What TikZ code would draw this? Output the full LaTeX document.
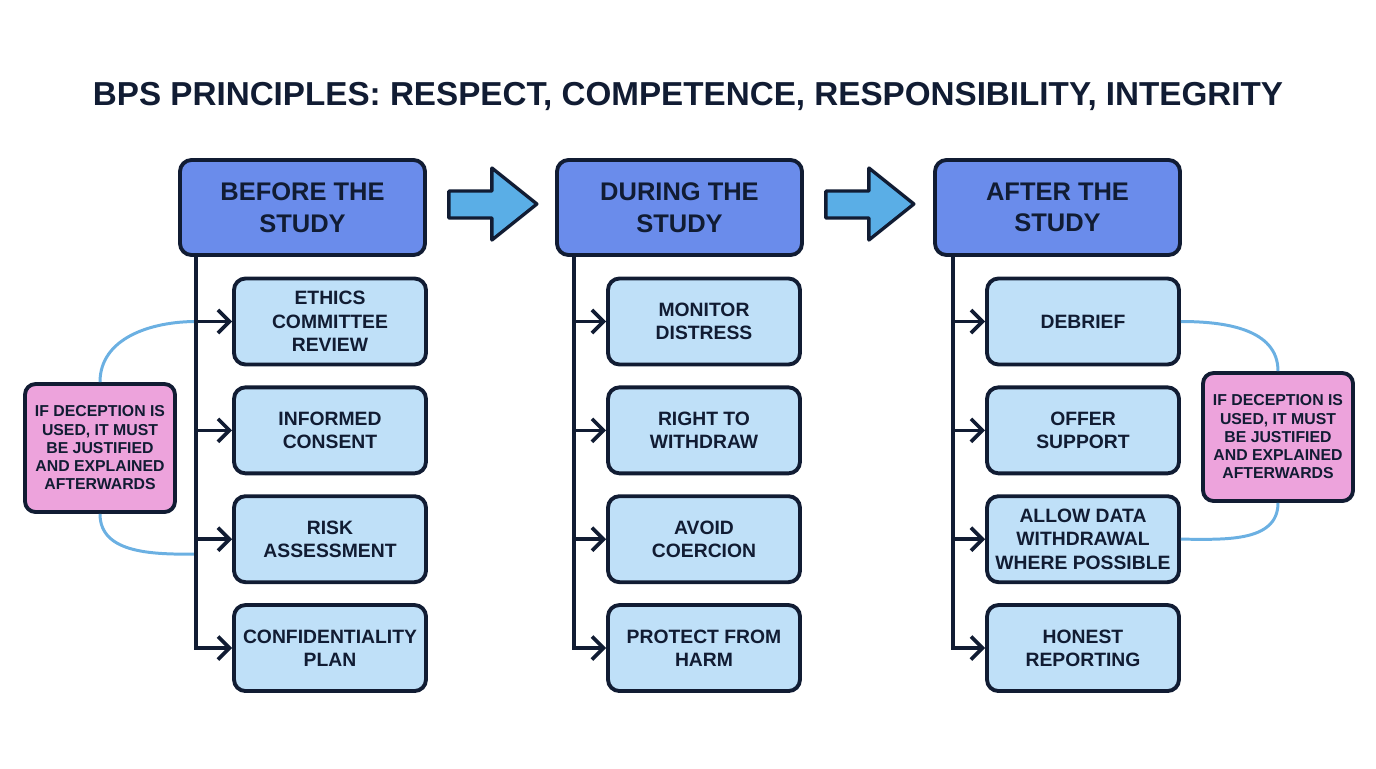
\documentclass[tikz,border=0pt]{standalone}
\usepackage{fontspec}
\setmainfont{Liberation Sans}
\usetikzlibrary{arrows.meta,positioning,calc}
\definecolor{bpsink}{HTML}{111C33}
\definecolor{bpshead}{HTML}{6A8CEB}
\definecolor{bpsstep}{HTML}{BFE0F8}
\definecolor{bpsnote}{HTML}{EDA3DC}
\definecolor{bpsarrow}{HTML}{5AAEE6}
\definecolor{bpslink}{HTML}{6BB0E2}
\tikzset{
  phase/.style={rectangle,rounded corners=6.5pt,draw=bpsink,line width=2.2pt,
                fill=bpshead,minimum width=4.9cm,minimum height=1.9cm,inner sep=2pt,
                align=center,font=\fontsize{14.5}{18}\selectfont\bfseries,text=bpsink},
  task/.style={rectangle,rounded corners=6.5pt,draw=bpsink,line width=2.2pt,
               fill=bpsstep,minimum width=3.84cm,minimum height=1.72cm,inner sep=2pt,
               align=center,font=\fontsize{11}{13.3}\selectfont\bfseries,text=bpsink},
  caveat/.style={rectangle,rounded corners=6pt,draw=bpsink,line width=2.2pt,
                 fill=bpsnote,minimum width=3.0cm,minimum height=2.56cm,inner sep=2pt,
                 align=center,font=\fontsize{9}{10.4}\selectfont\bfseries,text=bpsink},
  trunk/.style={line width=2pt,draw=bpsink},
  branch/.style={-{Straight Barb[length=2.3mm,width=4.6mm]},line width=2.1pt,draw=bpsink},
  link/.style={line width=1.7pt,draw=bpslink},
  bigarrow/.style={fill=bpsarrow,draw=bpsink,line width=1.9pt,line join=round},
}
\begin{document}
\begin{tikzpicture}[x=0.02cm,y=-0.02cm,node distance=0.38cm]
  \useasboundingbox (0,0) rectangle (1376,768);
  \node[anchor=base,font=\fontsize{18.9}{22}\selectfont\bfseries,text=bpsink] (ttl) at (688,105)
    {BPS PRINCIPLES: RESPECT, COMPETENCE, RESPONSIBILITY, INTEGRITY};

  % phases
  \node[phase] (bef) at (302.5,207.5) {BEFORE THE\\STUDY};
  \node[phase] (dur) at (679.5,207.5) {DURING THE\\STUDY};
  \node[phase] (aft) at (1057.5,207.5) {AFTER THE\\STUDY};

  % before
  \node[task] (b1) at (330,321.5) {ETHICS\\COMMITTEE\\REVIEW};
  \node[task,below=of b1] (b2) {INFORMED\\CONSENT};
  \node[task,below=of b2] (b3) {RISK\\ASSESSMENT};
  \node[task,below=of b3] (b4) {CONFIDENTIALITY\\PLAN};

  % during
  \node[task] (d1) at (704,321.5) {MONITOR\\DISTRESS};
  \node[task,below=of d1] (d2) {RIGHT TO\\WITHDRAW};
  \node[task,below=of d2] (d3) {AVOID\\COERCION};
  \node[task,below=of d3] (d4) {PROTECT FROM\\HARM};

  % after
  \node[task] (a1) at (1083,321.5) {DEBRIEF};
  \node[task,below=of a1] (a2) {OFFER\\SUPPORT};
  \node[task,below=of a2] (a3) {ALLOW DATA\\WITHDRAWAL\\WHERE POSSIBLE};
  \node[task,below=of a3] (a4) {HONEST\\REPORTING};

  % deception notes
  \node[caveat] (noteL) at (100,448) {IF DECEPTION IS\\USED, IT MUST\\BE JUSTIFIED\\AND EXPLAINED\\AFTERWARDS};
  \node[caveat] (noteR) at (1278,437) {IF DECEPTION IS\\USED, IT MUST\\BE JUSTIFIED\\AND EXPLAINED\\AFTERWARDS};

  \coordinate (bt) at ($(bef.south west)+(18,0)$);
  \coordinate (dt) at ($(dur.south west)+(19,0)$);
  \coordinate (at) at ($(aft.south west)+(20,0)$);

  \draw[link] (noteL.north) to[out=90,in=180] (bt |- b1.west);
  \draw[link] (noteL.south) to[out=-90,in=180] ($(bt |- b3.west)+(0,15)$);
  \draw[link] (a1.east) to[out=0,in=90] (noteR.north);
  \draw[link] (a3.east) to[out=0,in=-90] (noteR.south);

  \draw[branch] (bt) |- (b4.west);
  \draw[branch] (bt |- b1.west) -- (b1.west);
  \draw[branch] (bt |- b2.west) -- (b2.west);
  \draw[branch] (bt |- b3.west) -- (b3.west);

  \draw[branch] (dt) |- (d4.west);
  \draw[branch] (dt |- d1.west) -- (d1.west);
  \draw[branch] (dt |- d2.west) -- (d2.west);
  \draw[branch] (dt |- d3.west) -- (d3.west);

  \draw[branch] (at) |- (a4.west);
  \draw[branch] (at |- a1.west) -- (a1.west);
  \draw[branch] (at |- a2.west) -- (a2.west);
  \draw[branch] (at |- a3.west) -- (a3.west);

  % phase arrows
  \draw[bigarrow] ($(bef.east)+(22,-16.5)$) -- ++(43,0) -- ++(0,-23) -- ++(45,36)
    -- ++(-45,36) -- ++(0,-22) -- ++(-43,0) -- cycle;
  \draw[bigarrow] ($(dur.east)+(22,-16.5)$) -- ++(43,0) -- ++(0,-23) -- ++(45,36)
    -- ++(-45,36) -- ++(0,-22) -- ++(-43,0) -- cycle;
\end{tikzpicture}
\end{document}
